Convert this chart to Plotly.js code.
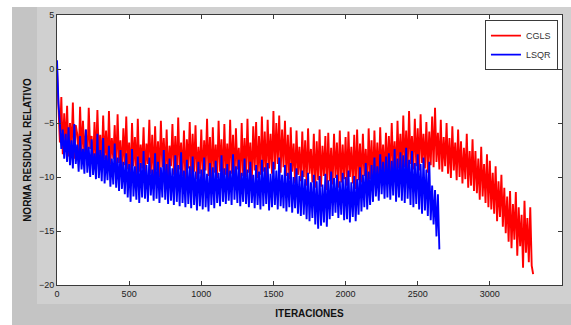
<!DOCTYPE html>
<html>
<head>
<meta charset="utf-8">
<script src="https://cdn.plot.ly/plotly-3.0.1.min.js"></script>
<style>
  html, body { margin: 0; padding: 0; background: #ffffff; }
  #wrap { position: relative; width: 571px; height: 325px; overflow: hidden; }
  #bgDark { position: absolute; left: 12px; top: 7px; width: 559px; height: 318px; background: #c4c4c4; }
  #bgLight { position: absolute; left: 37px; top: 7px; width: 534px; height: 297px; background: #d0d0d0; }
  #chart { position: absolute; left: 0; top: 0; width: 571px; height: 325px; }
</style>
</head>
<body>
<div id="wrap">
  <div id="bgDark"></div>
  <div id="bgLight"></div>
  <div id="chart"></div>
</div>
<script>
// Iteration step between stored samples
const iterStart = 0;
const iterStep = 10;

// CGLS relative residual norm (samples every 10 iterations, 0..3300)
const cglsValues = [
  0, -3.0, -6.8, -2.6, -7.9, -4.1, -7.2, -3.4, -8.1, -5.0,
  -7.6, -3.1, -8.3, -5.2, -6.0, -8.5, -3.5, -7.8, -4.8, -8.2,
  -5.6, -8.9, -3.6, -7.4, -6.2, -9.0, -4.9, -8.6, -3.8, -8.0,
  -6.1, -9.1, -4.3, -8.4, -5.7, -9.2, -3.9, -8.8, -6.4, -8.3,
  -5.2, -9.4, -4.2, -8.7, -6.6, -9.6, -5.5, -8.9, -4.4, -9.3,
  -6.8, -10.1, -5.0, -9.0, -6.3, -9.8, -4.6, -9.5, -7.0, -9.2,
  -5.4, -9.9, -6.9, -8.8, -4.7, -9.7, -6.1, -10.2, -5.3, -9.4,
  -6.7, -10.0, -4.8, -9.1, -6.4, -9.6, -5.6, -10.3, -7.1, -9.0,
  -5.1, -9.8, -6.2, -10.1, -4.5, -9.3, -6.8, -9.9, -5.7, -10.4,
  -6.5, -9.2, -4.9, -10.0, -6.0, -9.5, -5.2, -10.2, -7.2, -9.7,
  -5.6, -10.3, -6.6, -9.4, -4.6, -9.9, -6.3, -10.5, -5.4, -9.6,
  -7.0, -10.1, -4.8, -9.5, -6.5, -10.6, -5.1, -9.8, -6.9, -10.2,
  -4.7, -9.7, -6.1, -10.4, -5.5, -9.3, -7.3, -10.7, -5.0, -9.9,
  -6.4, -10.0, -4.6, -9.6, -6.8, -10.5, -5.3, -9.4, -4.9, -10.1,
  -6.2, -9.8, -4.4, -9.5, -5.8, -10.3, -4.7, -9.2, -6.0, -9.7,
  -3.9, -9.3, -5.0, -8.8, -4.3, -9.6, -5.6, -9.1, -4.8, -9.9,
  -6.1, -10.2, -5.4, -9.5, -6.9, -10.6, -5.7, -9.8, -7.2, -10.4,
  -5.8, -10.0, -6.6, -10.8, -5.5, -9.7, -7.4, -10.5, -6.0, -11.0,
  -6.7, -10.3, -5.6, -10.9, -7.1, -9.9, -6.2, -11.2, -5.9, -10.4,
  -7.3, -10.7, -6.0, -10.1, -6.8, -11.0, -5.7, -10.5, -7.0, -10.2,
  -6.3, -10.8, -5.8, -10.0, -7.2, -10.6, -6.1, -11.1, -5.6, -10.3,
  -6.9, -10.5, -6.0, -9.9, -7.4, -10.9, -5.5, -10.2, -6.6, -10.7,
  -5.7, -10.1, -6.8, -10.4, -5.4, -9.6, -7.0, -10.0, -5.9, -9.8,
  -6.2, -9.7, -5.0, -9.4, -6.7, -10.0, -4.8, -9.2, -6.0, -9.6,
  -4.3, -9.1, -5.7, -9.5, -3.9, -8.8, -6.2, -9.3, -4.6, -9.0,
  -5.5, -9.4, -4.2, -8.7, -6.0, -9.2, -4.9, -9.6, -5.8, -8.9,
  -4.4, -9.1, -3.6, -8.6, -5.9, -9.3, -4.7, -9.5, -6.3, -9.0,
  -5.0, -9.7, -6.4, -10.1, -5.3, -9.4, -6.8, -10.3, -5.6, -10.0,
  -6.7, -10.6, -7.3, -10.2, -6.0, -11.0, -7.6, -10.8, -6.5, -11.3,
  -7.6, -11.5, -8.3, -12.1, -7.2, -11.8, -8.8, -12.4, -7.9, -12.8,
  -8.5, -13.0, -9.6, -13.4, -9.0, -14.1, -10.4, -13.7, -9.8, -14.6,
  -11.0, -15.2, -11.8, -16.0, -11.3, -16.6, -12.5, -15.8, -11.4, -17.3,
  -12.8, -16.4, -13.5, -18.4, -12.2, -17.0, -13.8, -17.9, -12.8, -18.2,
  -19.0
];

// LSQR relative residual norm (samples every 10 iterations, 0..2650)
const lsqrValues = [
  0.8, -3.2, -5.0, -7.4, -5.6, -8.3, -6.0, -8.6, -5.4, -8.9,
  -6.6, -9.2, -5.1, -8.8, -7.0, -9.5, -6.2, -9.3, -7.4, -9.7,
  -5.6, -9.6, -7.2, -10.0, -6.5, -9.8, -7.8, -10.2, -6.0, -10.1,
  -7.5, -10.4, -6.4, -10.6, -8.0, -10.3, -7.1, -10.9, -8.3, -10.7,
  -6.9, -11.0, -8.2, -11.3, -7.5, -11.1, -8.6, -11.6, -7.8, -11.9,
  -8.8, -12.3, -7.4, -11.8, -9.0, -12.1, -8.1, -12.4, -8.7, -11.9,
  -7.6, -12.0, -8.9, -12.3, -8.2, -11.7, -9.3, -12.2, -7.8, -12.0,
  -8.6, -12.4, -9.1, -11.9, -7.5, -12.1, -8.8, -12.5, -8.3, -12.2,
  -9.2, -12.6, -8.0, -12.3, -8.9, -12.7, -7.7, -12.4, -9.4, -12.8,
  -8.4, -12.5, -9.0, -12.9, -8.1, -12.6, -9.5, -13.1, -8.6, -12.7,
  -9.3, -13.0, -8.2, -12.8, -9.7, -13.2, -8.7, -12.6, -9.1, -12.9,
  -8.5, -12.4, -9.6, -12.7, -8.0, -12.3, -9.2, -12.5, -8.8, -12.2,
  -9.4, -12.6, -7.9, -12.1, -9.0, -12.4, -8.4, -12.7, -9.6, -12.3,
  -8.3, -12.5, -9.3, -12.8, -8.6, -12.4, -9.8, -12.9, -8.9, -12.6,
  -9.5, -13.0, -8.4, -12.7, -9.1, -12.5, -8.7, -13.1, -9.7, -12.8,
  -8.6, -12.6, -9.4, -13.0, -8.2, -12.7, -9.8, -12.9, -8.9, -13.2,
  -9.6, -12.8, -8.7, -13.3, -10.0, -12.9, -9.2, -13.4, -9.9, -13.6,
  -9.4, -13.5, -10.2, -13.9, -9.6, -14.1, -10.5, -13.8, -9.8, -14.4,
  -10.4, -14.8, -9.9, -14.5, -10.7, -14.2, -9.7, -14.6, -10.3, -13.9,
  -9.5, -13.6, -10.1, -13.3, -9.8, -13.8, -10.4, -13.5, -9.6, -14.0,
  -10.0, -13.9, -9.4, -14.2, -10.5, -13.7, -9.9, -14.1, -10.2, -13.5,
  -9.1, -13.2, -9.8, -12.8, -8.7, -13.0, -9.5, -12.6, -8.9, -12.3,
  -8.2, -11.8, -9.0, -12.2, -7.9, -11.6, -8.6, -12.0, -8.1, -11.9,
  -7.8, -12.1, -8.5, -11.7, -7.4, -12.3, -8.3, -11.9, -7.7, -12.2,
  -8.0, -12.4, -7.3, -12.0, -8.4, -12.6, -7.6, -12.8, -8.7, -12.5,
  -7.9, -13.0, -8.8, -13.4, -8.2, -13.1, -9.3, -13.6, -8.6, -14.0,
  -10.8, -14.4, -11.2, -15.5, -11.6, -16.7
];

const seriesNames = ['CGLS', 'LSQR'];
const xTitle = 'ITERACIONES';
const yTitle = 'NORMA RESIDUAL RELATIVO';

const fontFam = '"Liberation Sans", Arial, sans-serif';

const traces = [
  {
    type: 'scatter', mode: 'lines', name: seriesNames[0],
    x0: iterStart, dx: iterStep, y: cglsValues,
    line: { color: '#ff0000', width: 1.9 }
  },
  {
    type: 'scatter', mode: 'lines', name: seriesNames[1],
    x0: iterStart, dx: iterStep, y: lsqrValues,
    line: { color: '#0000ff', width: 1.9 }
  }
];

const axisCommon = {
  showgrid: false, zeroline: false,
  showline: true, linecolor: '#3a3a3a', linewidth: 1,
  mirror: 'ticks', ticks: 'inside', ticklen: 4, tickwidth: 1, tickcolor: '#3a3a3a',
  tickfont: { family: fontFam, size: 9, color: '#222' }
};

const layout = {
  width: 571, height: 325,
  margin: { l: 57, r: 9, t: 15, b: 40, pad: 0 },
  paper_bgcolor: 'rgba(0,0,0,0)',
  plot_bgcolor: '#ffffff',
  showlegend: true,
  legend: {
    x: 0.992, y: 0.981, xanchor: 'right', yanchor: 'top',
    bgcolor: '#ffffff', bordercolor: '#3a3a3a', borderwidth: 1,
    font: { family: fontFam, size: 9, color: '#333' },
    itemwidth: 30, tracegroupgap: 0
  },
  xaxis: Object.assign({}, axisCommon, {
    range: [0, 3500], dtick: 500, tick0: 0,
    title: { text: xTitle, standoff: 12, font: { family: fontFam, size: 10, color: '#111', weight: 'bold' } }
  }),
  yaxis: Object.assign({}, axisCommon, {
    range: [-20, 5], dtick: 5, tick0: 0,
    title: { text: yTitle, standoff: 5, font: { family: fontFam, size: 10, color: '#111', weight: 'bold' } }
  })
};

Plotly.newPlot('chart', traces, layout, { displayModeBar: false, staticPlot: true });
</script>
</body>
</html>
